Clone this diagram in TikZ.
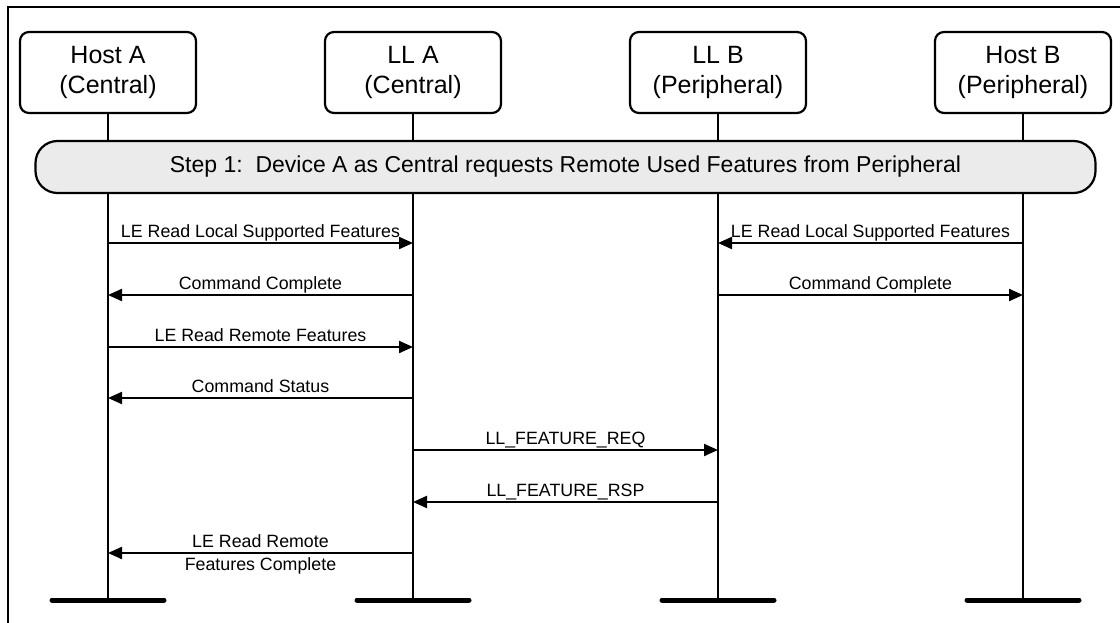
\documentclass[tikz,border=0pt]{standalone}
\usepackage{fontspec}
\setmainfont{Liberation Sans}
\usetikzlibrary{arrows.meta}
\begin{document}
\begin{tikzpicture}[x=1pt,y=-1pt,
  actor/.style={draw, line width=2.2pt, rounded corners=9pt, minimum width=176pt, minimum height=81pt, inner sep=0pt, align=center, font=\fontsize{25}{30}\selectfont},
  life/.style={line width=2.4pt},
  foot/.style={line width=5pt, line cap=round},
  msg/.style={line width=2.2pt, -{Triangle[length=14pt,width=12pt]}},
  lbl/.style={font=\fontsize{17.8}{21}\selectfont, anchor=base, inner sep=0pt},
  stepbar/.style={draw, line width=2.2pt, fill=black!8, rounded corners=22pt, minimum width=1060pt, minimum height=52pt, inner sep=0pt, font=\fontsize{23}{27}\selectfont}]
\useasboundingbox (0,0) rectangle (1120,623);
\fill[white] (0,0) rectangle (1120,623);
% frame
\coordinate (fb) at (8,624);
\coordinate (fc) at (8,7);
\coordinate (fr) at (1121,7);
\draw[line width=2.4pt] (fb) -- (fc) -- (fr);
% actors
\node[actor] (hostA) at (108,72.5) {Host A\\(Central)};
\node[actor] (llA) at (413,72.5) {LL A\\(Central)};
\node[actor] (llB) at (718,72.5) {LL B\\(Peripheral)};
\node[actor] (hostB) at (1023,72.5) {Host B\\(Peripheral)};
% lifelines
\coordinate (ybot) at (0,600);
\foreach \n in {hostA,llA,llB,hostB}{
  \coordinate (\n End) at (\n |- ybot);
  \draw[life] (\n.south) -- (\n End);
  \draw[foot] ([xshift=-56pt]\n End) -- ([xshift=56pt]\n End);
}
% step bar
\node[stepbar] (step) at (565.5,167) {Step 1:\ \ Device A as Central requests Remote Used Features from Peripheral};
% message rows
\coordinate (m1) at (0,243);
\coordinate (m2) at (0,295);
\coordinate (m3) at (0,347);
\coordinate (m4) at (0,398);
\coordinate (m5) at (0,450);
\coordinate (m6) at (0,502);
\coordinate (m7) at (0,553);
% messages
\draw[msg] (hostA |- m1) -- (llA |- m1) node[lbl, midway, yshift=6pt] (t1) {LE Read Local Supported Features};
\draw[msg] (hostB |- m1) -- (llB |- m1) node[lbl, midway, yshift=6pt] (t2) {LE Read Local Supported Features};
\draw[msg] (llA |- m2) -- (hostA |- m2) node[lbl, midway, yshift=6pt] (t3) {Command Complete};
\draw[msg] (llB |- m2) -- (hostB |- m2) node[lbl, midway, yshift=6pt] (t4) {Command Complete};
\draw[msg] (hostA |- m3) -- (llA |- m3) node[lbl, midway, yshift=6pt] (t5) {LE Read Remote Features};
\draw[msg] (llA |- m4) -- (hostA |- m4) node[lbl, midway, yshift=6pt] (t6) {Command Status};
\draw[msg] (llA |- m5) -- (llB |- m5) node[lbl, midway, yshift=6pt] (t7) {LL\_FEATURE\_REQ};
\draw[msg] (llB |- m6) -- (llA |- m6) node[lbl, midway, yshift=6pt] (t8) {LL\_FEATURE\_RSP};
\draw[msg] (llA |- m7) -- (hostA |- m7)
  node[lbl, midway, yshift=6pt] (t9) {LE Read Remote}
  node[lbl, midway, yshift=-17pt] (t10) {Features Complete};
\end{tikzpicture}
\end{document}
